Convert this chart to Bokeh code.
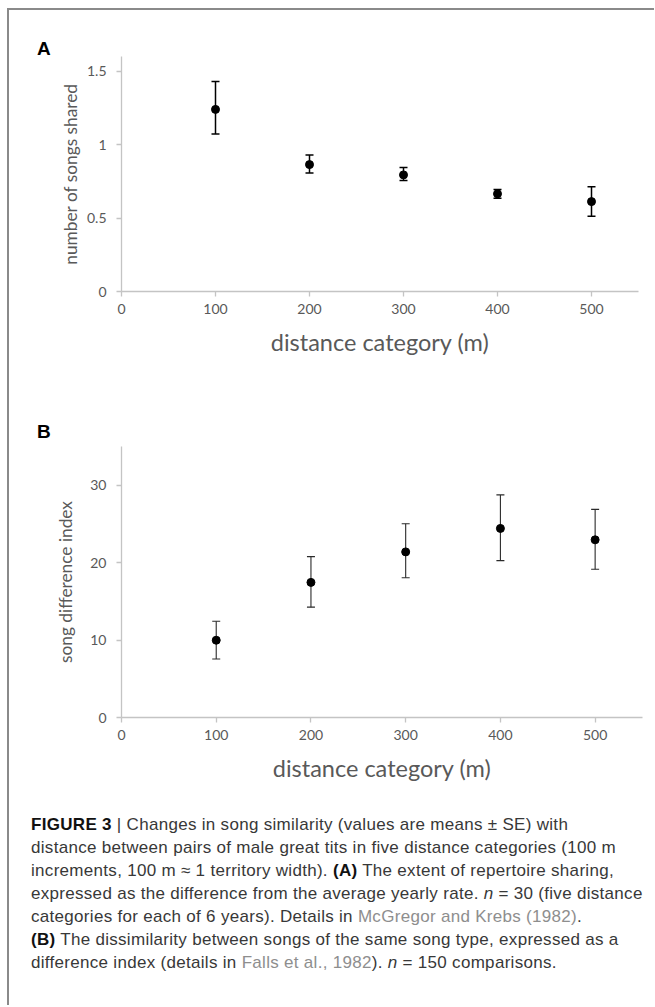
from bokeh.plotting import figure
from bokeh.models import (Whisker, TeeHead, ColumnDataSource, Range1d, FixedTicker,
                          Div, NumeralTickFormatter, Spacer)
from bokeh.layouts import column, row
from bokeh.embed import file_html
from bokeh.resources import INLINE

# ---------------- data ----------------
distance = [100, 200, 300, 400, 500]

shared_mean = [1.24, 0.864, 0.794, 0.665, 0.612]
shared_upper = [1.43, 0.930, 0.844, 0.694, 0.714]
shared_lower = [1.072, 0.807, 0.755, 0.635, 0.512]

diff_mean = [9.98, 17.45, 21.39, 24.42, 22.95]
diff_upper = [12.43, 20.78, 25.03, 28.75, 26.88]
diff_lower = [7.55, 14.25, 18.05, 20.26, 19.14]

x_ticks = [0, 100, 200, 300, 400, 500]
a_ticks = [0, 0.5, 1, 1.5]
b_ticks = [0, 10, 20, 30]

AX_COL = "#c4c4c4"
TICK_TXT = "#595959"
LBL_TXT = "#595959"
FONT = "Lato"
TOTAL_W = 643
BORDER = "#8a8a8a"


def style_axes(p, xt, yt, y_std):
    for ax in (p.xaxis[0], p.yaxis[0]):
        ax.axis_line_color = AX_COL
        ax.axis_line_width = 1.3
        ax.major_tick_line_color = AX_COL
        ax.major_tick_line_width = 1.3
        ax.major_tick_in = 0
        ax.major_tick_out = 5
        ax.minor_tick_line_color = None
        ax.major_label_text_font = FONT
        ax.major_label_text_font_size = "14px"
        ax.major_label_text_color = TICK_TXT
        ax.axis_label_text_font = FONT
        ax.axis_label_text_font_style = "normal"
        ax.axis_label_text_color = LBL_TXT
    p.xaxis[0].ticker = FixedTicker(ticks=xt)
    p.yaxis[0].ticker = FixedTicker(ticks=yt)
    p.xaxis[0].major_label_standoff = 7
    p.yaxis[0].major_label_standoff = 10
    p.xaxis[0].axis_label = "distance category (m)"
    p.xaxis[0].axis_label_text_font_size = "23.5px"
    p.xaxis[0].axis_label_standoff = 11
    p.yaxis[0].axis_label_text_font_size = "17.3px"
    p.yaxis[0].axis_label_standoff = y_std
    p.xgrid.grid_line_color = None
    p.ygrid.grid_line_color = None
    p.outline_line_color = None


def panel(means, uppers, lowers, ymax, yt, ylabel, bl, bt, fw, fh, bb, y_std, lw, col):
    p = figure(output_backend="svg", toolbar_location=None,
               frame_width=fw, frame_height=fh,
               min_border_left=bl, min_border_right=TOTAL_W - bl - fw,
               min_border_top=bt, min_border_bottom=bb,
               x_range=Range1d(0, 550), y_range=Range1d(0, ymax))
    style_axes(p, x_ticks, yt, y_std)
    p.yaxis[0].axis_label = ylabel
    p.yaxis[0].formatter = NumeralTickFormatter(format="0.[0]")
    src = ColumnDataSource(dict(x=distance, y=means, upper=uppers, lower=lowers))
    w = Whisker(base="x", upper="upper", lower="lower", source=src,
                line_color=col, line_width=lw,
                upper_head=TeeHead(size=8, line_color=col, line_width=lw),
                lower_head=TeeHead(size=8, line_color=col, line_width=lw))
    p.add_layout(w)
    p.scatter("x", "y", source=src, size=8, color="black")
    return p


def letter_div(letter, h, pad_top):
    html = ('<div style="font-family: \'Liberation Sans\', Arial, sans-serif; font-weight: bold; '
            f'font-size: 19px; line-height: 19px; color: #000; padding-left: 28px; '
            f'padding-top: {pad_top}px;">{letter}</div>')
    return Div(text=html, width=TOTAL_W, height=h, margin=0)


divA = letter_div("A", 46, 29)
pA = panel(shared_mean, shared_upper, shared_lower, 1.6, a_ticks,
           "number of songs shared", bl=112, bt=0, fw=517, fh=235, bb=99, y_std=3,
           lw=1.5, col="black")

divB = letter_div("B", 50, 32)
pB = panel(diff_mean, diff_upper, diff_lower, 35, b_ticks,
           "song difference index", bl=109, bt=6, fw=521, fh=271, bb=73, y_std=11,
           lw=1.1, col="#2a2a2a")

LINK = "#8e8e8e"
caption_html = (
    '<div style="font-family: \'Liberation Sans\', Arial, sans-serif; font-size: 17px; '
    'letter-spacing: 0.3px; line-height: 23px; color: #383838; padding-left: 22px; '
    'padding-top: 23px; white-space: nowrap;">'
    '<b style="color:#111">FIGURE 3</b> <span style="color:#333">|</span> '
    'Changes in song similarity (values are means ± SE) with<br>'
    'distance between pairs of male great tits in five distance categories (100 m<br>'
    'increments, 100 m ≈ 1 territory width). <b style="color:#111">(A)</b> '
    'The extent of repertoire sharing,<br>'
    'expressed as the difference from the average yearly rate. <i>n</i> = 30 (five distance<br>'
    'categories for each of 6 years). Details in '
    f'<span style="color:{LINK}">McGregor and Krebs (1982)</span>.<br>'
    '<b style="color:#111">(B)</b> The dissimilarity between songs of the same song type, '
    'expressed as a<br>'
    f'difference index (details in <span style="color:{LINK}">Falls et al., 1982</span>). '
    '<i>n</i> = 150 comparisons.'
    '</div>'
)
cap = Div(text=caption_html, width=TOTAL_W, height=200, margin=0)

content = column(divA, pA, divB, pB, cap, spacing=0)
top_line = Div(text="", width=647, height=2, margin=0,
               styles={"background-color": BORDER})
left_line = Div(text="", width=2, height=995, margin=0,
                styles={"background-color": BORDER})
framed = column(top_line, row(left_line, content, spacing=0), spacing=0)
layout = row(Spacer(width=7, height=10),
             column(Spacer(width=10, height=8), framed, spacing=0),
             spacing=0)

open("out.html", "w").write(file_html(layout, INLINE))
